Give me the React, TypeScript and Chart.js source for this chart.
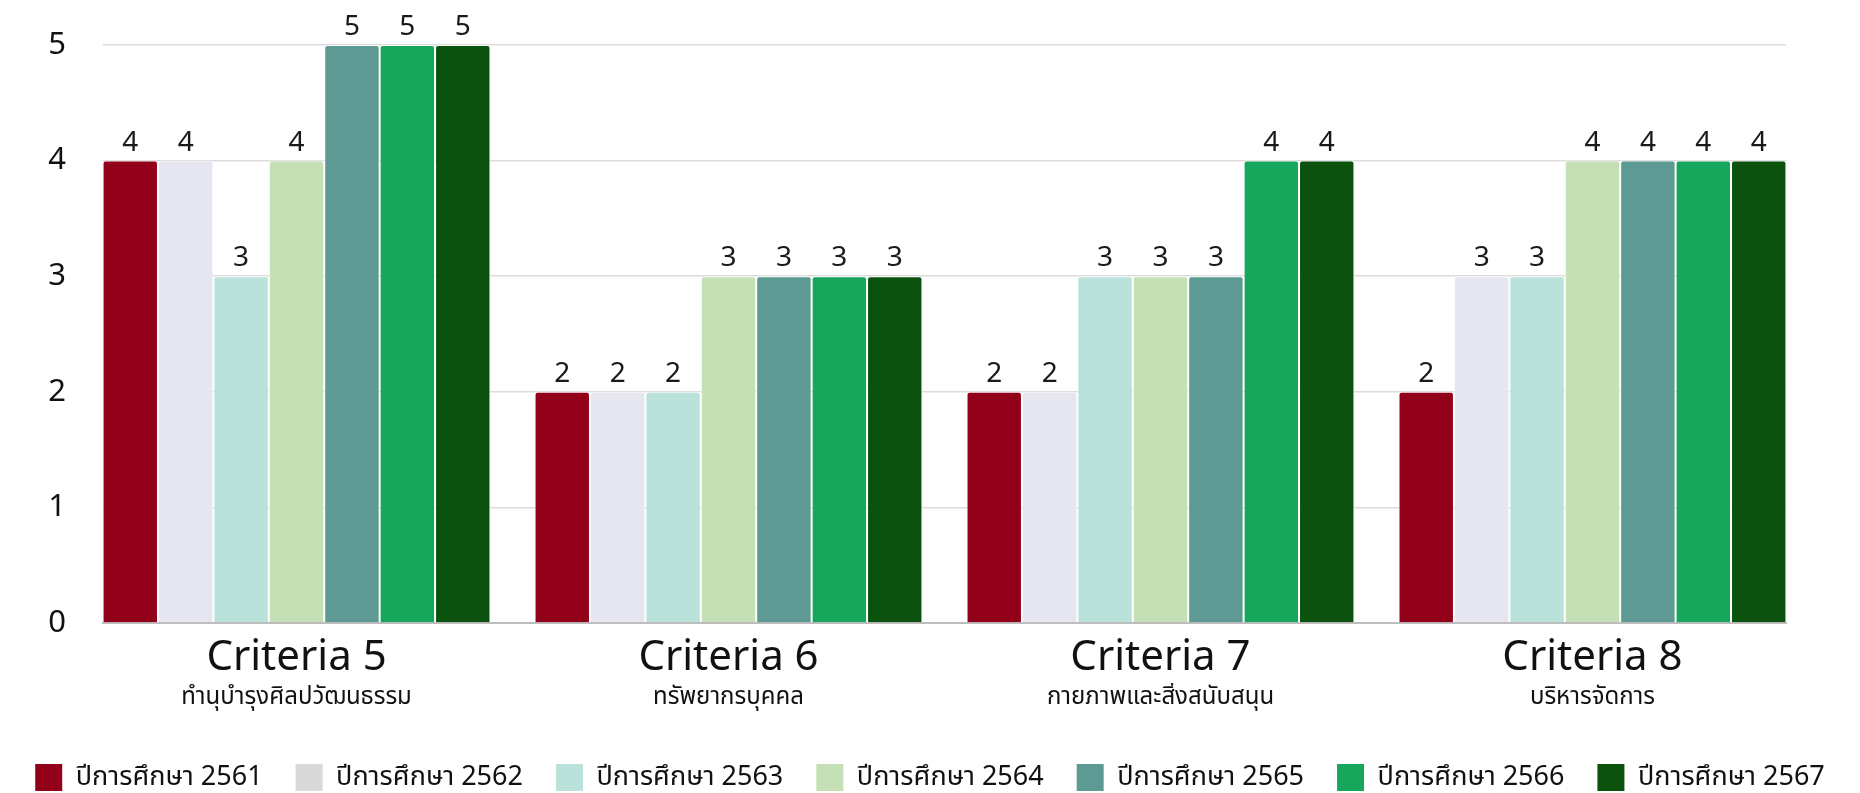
import React, { useEffect, useRef } from "react";
import { Chart, registerables } from "chart.js";

Chart.register(...registerables);

const categories = ["Criteria 5", "Criteria 6", "Criteria 7", "Criteria 8"];
const subtitles = ["ทำนุบำรุงศิลปวัฒนธรรม", "ทรัพยากรบุคคล", "กายภาพและสิ่งสนับสนุน", "บริหารจัดการ"];
const seriesNames = [
  "ปีการศึกษา 2561",
  "ปีการศึกษา 2562",
  "ปีการศึกษา 2563",
  "ปีการศึกษา 2564",
  "ปีการศึกษา 2565",
  "ปีการศึกษา 2566",
  "ปีการศึกษา 2567",
];
const y2561 = [4, 2, 2, 2];
const y2562 = [4, 2, 2, 3];
const y2563 = [3, 2, 3, 3];
const y2564 = [4, 3, 3, 4];
const y2565 = [5, 3, 3, 4];
const y2566 = [5, 3, 4, 4];
const y2567 = [5, 3, 4, 4];
const seriesValues = [y2561, y2562, y2563, y2564, y2565, y2566, y2567];
const barColors = ["#930019", "#E6E6F0", "#BAE2DA", "#C5E0B4", "#5C9A93", "#16A75C", "#0B520F"];
const legendColors = ["#930019", "#D9D9D9", "#BAE2DA", "#C5E0B4", "#5C9A93", "#16A75C", "#0B520F"];
const yTicks = [0, 1, 2, 3, 4, 5];

const FONT = "'Noto Sans', 'Noto Sans Thai', sans-serif";

const valueLabels = {
  id: "valueLabels",
  afterDatasetsDraw(chart: any) {
    const ctx = chart.ctx;
    ctx.save();
    ctx.font = `28px ${FONT}`;
    ctx.fillStyle = "#1a1a1a";
    ctx.textAlign = "center";
    ctx.textBaseline = "bottom";
    chart.data.datasets.forEach((ds: any, di: number) => {
      const meta = chart.getDatasetMeta(di);
      meta.data.forEach((el: any, i: number) => {
        const v = ds.data[i].y;
        ctx.fillText(String(v), el.x, el.y - 4);
      });
    });
    ctx.restore();
  },
};

export default function App() {
  const ref = useRef<HTMLCanvasElement>(null);
  useEffect(() => {
    document.body.style.margin = "0";
    const idxTicks = (s: any) => {
      s.ticks = categories.map((_, i) => ({ value: i }));
    };
    const xBase = {
      type: "linear",
      position: "bottom",
      min: -0.448,
      max: 3.448,
      offset: false,
      bounds: "data",
      grace: 0,
      afterBuildTicks: idxTicks,
    };
    const chart = new Chart(ref.current!, {
      type: "bar",
      data: {
        datasets: seriesNames.map((name, si) => ({
          label: name,
          data: seriesValues[si].map((v, i) => ({ x: i, y: v })),
          backgroundColor: barColors[si],
          borderColor: "rgba(255,255,255,0.7)",
          borderWidth: 1,
          borderRadius: 3,
          categoryPercentage: 0.898,
          barPercentage: 1,
        })),
      },
      options: {
        animation: false,
        responsive: false,
        maintainAspectRatio: false,
        layout: { padding: { left: 0, right: 0, top: 45, bottom: -8 } },
        plugins: {
          tooltip: { enabled: false },
          legend: {
            position: "bottom",
            labels: {
              boxWidth: 27,
              boxHeight: 27,
              padding: 33,
              color: "#111",
              font: { family: FONT, size: 27 },
              generateLabels: () =>
                seriesNames.map((n, i) => ({
                  text: n,
                  fillStyle: legendColors[i],
                  strokeStyle: legendColors[i],
                  lineWidth: 0,
                  datasetIndex: i,
                  hidden: false,
                  fontColor: "#111",
                })),
            },
          },
        },
        scales: {
          x: {
            ...xBase,
            afterFit: (s: any) => {
              s.height = 60;
            },
            grid: { display: false, drawTicks: false, offset: false },
            border: { display: true, color: "#bdbdbd", width: 2 },
            ticks: {
              padding: 10,
              color: "#111",
              font: { family: FONT, size: 42 },
              maxRotation: 0,
              autoSkip: false,
              callback: (v: any) => categories[Math.round(v)] ?? "",
            },
          },
          x2: {
            ...xBase,
            afterFit: (s: any) => {
              s.height = 48;
            },
            grid: { display: false, drawTicks: false, offset: false },
            border: { display: false },
            ticks: {
              padding: 0,
              color: "#111",
              font: { family: FONT, size: 24 },
              maxRotation: 0,
              autoSkip: false,
              callback: (v: any) => subtitles[Math.round(v)] ?? "",
            },
          },
          y: {
            min: 0,
            max: 5,
            bounds: "data",
            grace: 0,
            afterBuildTicks: (s: any) => {
              s.ticks = yTicks.map((v) => ({ value: v }));
            },
            afterFit: (s: any) => {
              s.width = 103;
            },
            grid: {
              color: "#dcdcdc",
              lineWidth: 1.5,
              drawTicks: true,
              tickLength: 37,
              tickColor: "rgba(0,0,0,0)",
            },
            border: { display: false },
            ticks: {
              padding: 0,
              color: "#111",
              font: { family: FONT, size: 31 },
            },
          },
          yRight: {
            type: "linear",
            position: "right",
            min: 0,
            max: 5,
            afterFit: (s: any) => {
              s.width = 74;
            },
            grid: { display: false, drawTicks: false },
            border: { display: false },
            ticks: { display: false },
          },
        },
      },
      plugins: [valueLabels],
    } as any);
    return () => chart.destroy();
  }, []);
  return (
    <div style={{ width: 1860, height: 793, overflow: "hidden" }}>
      <canvas ref={ref} width={1860} height={793} style={{ display: "block" }} />
    </div>
  );
}
